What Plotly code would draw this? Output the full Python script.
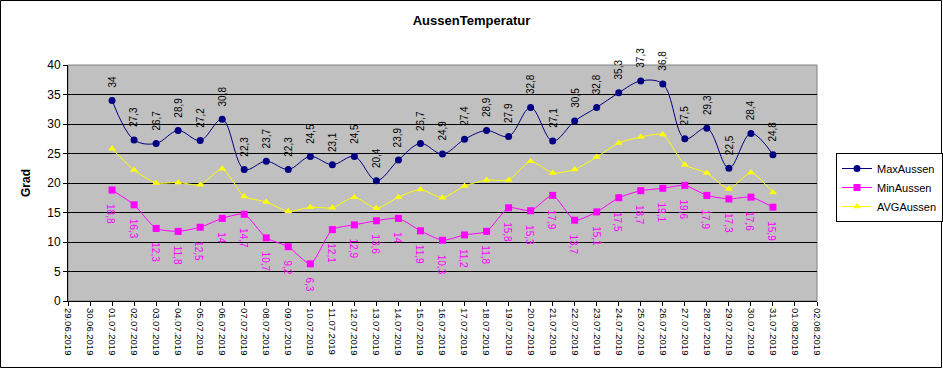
import plotly.graph_objects as go
import pandas as pd

# ---- data ----
axis_dates = pd.date_range("2019-06-29", "2019-08-02", freq="D")
dates = pd.date_range("2019-07-01", "2019-07-31", freq="D")
max_aussen = [34, 27.3, 26.7, 28.9, 27.2, 30.8, 22.3, 23.7, 22.3, 24.5, 23.1, 24.5, 20.4, 23.9, 26.7,
              24.9, 27.4, 28.9, 27.9, 32.8, 27.1, 30.5, 32.8, 35.3, 37.3, 36.8, 27.5, 29.3, 22.5, 28.4, 24.8]
min_aussen = [18.8, 16.3, 12.3, 11.8, 12.5, 14, 14.7, 10.7, 9.2, 6.3, 12.1, 12.9, 13.6, 14, 11.9,
              10.3, 11.2, 11.8, 15.8, 15.3, 17.9, 13.7, 15.1, 17.5, 18.7, 19.1, 19.6, 17.9, 17.3, 17.6, 15.9]
avg_aussen = [25.8, 22.2, 20.0, 20.1, 19.7, 22.4, 17.7, 16.8, 15.2, 15.9, 15.8, 17.6, 15.7, 17.6, 18.9,
              17.5, 19.5, 20.5, 20.5, 23.7, 21.7, 22.3, 24.4, 26.8, 27.8, 28.2, 23.1, 21.7, 19.0, 21.8, 18.4]
y_ticks = [0, 5, 10, 15, 20, 25, 30, 35, 40]

W, H = 943, 368
ML, MR, MT, MB = 68, 126, 65, 67
PW, PH = W - ML - MR, H - MT - MB

FONT = "Liberation Sans, Arial, sans-serif"

fig = go.Figure()
fig.add_trace(go.Scatter(
    x=dates, y=max_aussen, name="MaxAussen", mode="lines+markers",
    line=dict(color="#000080", width=1, shape="spline", smoothing=1),
    marker=dict(symbol="circle", size=7, color="#000080")))
fig.add_trace(go.Scatter(
    x=dates, y=min_aussen, name="MinAussen", mode="lines+markers",
    line=dict(color="#FF00FF", width=1, shape="spline", smoothing=0.6),
    marker=dict(symbol="square", size=7, color="#FF00FF")))
fig.add_trace(go.Scatter(
    x=dates, y=avg_aussen, name="AVGAussen", mode="lines+markers",
    line=dict(color="#FFFF00", width=1, shape="spline", smoothing=0.6),
    marker=dict(symbol="triangle-up", size=7, color="#FFFF00")))

def fmt(v):
    return ("%g" % v).replace(".", ",")

annotations = []
for d, v in zip(dates, max_aussen):
    annotations.append(dict(x=d, y=v, xref="x", yref="y", text=fmt(v), showarrow=False,
                            textangle=-90, yanchor="bottom", yshift=11,
                            font=dict(family=FONT, size=10, color="black")))
for d, v in zip(dates, min_aussen):
    annotations.append(dict(x=d, y=v, xref="x", yref="y", text=fmt(v), showarrow=False,
                            textangle=90, yanchor="top", yshift=-12, xshift=-1,
                            font=dict(family=FONT, size=10, color="#FF00FF")))

shapes = [
    # outer chart frame
    dict(type="rect", xref="paper", yref="paper",
         x0=-(ML - 0.5) / PW, x1=1 + (MR - 1.5) / PW,
         y0=-(MB - 0.5) / PH, y1=1 + (MT - 0.5) / PH,
         line=dict(color="black", width=1), fillcolor="rgba(0,0,0,0)", layer="above"),
    # plot area border (grey)
    dict(type="rect", xref="paper", yref="paper", x0=0, x1=1, y0=0, y1=1,
         line=dict(color="#808080", width=1), fillcolor="rgba(0,0,0,0)", layer="below"),
]

fig.update_layout(
    width=W, height=H,
    margin=dict(l=ML, r=MR, t=MT, b=MB, pad=0, autoexpand=False),
    paper_bgcolor="white", plot_bgcolor="#C0C0C0",
    font=dict(family=FONT, size=11, color="black"),
    title=dict(text="<b>AussenTemperatur</b>", x=0.5, xref="container", xanchor="center",
               y=1 - 20 / H, yanchor="middle", font=dict(family=FONT, size=13, color="black")),
    showlegend=True,
    legend=dict(x=1 + (836 - 817) / PW, xanchor="left", y=1 - (153 - MT) / PH, yanchor="top",
                bgcolor="white", bordercolor="black", borderwidth=1,
                font=dict(family=FONT, size=11, color="black"),
                itemwidth=30, tracegroupgap=2),
    annotations=annotations,
    shapes=shapes,
)
fig.update_xaxes(
    type="date", range=[axis_dates[0], axis_dates[-1]], automargin=False,
    tickvals=list(axis_dates), ticktext=[d.strftime("%d.%m.%Y") for d in axis_dates],
    tickangle=90, ticks="outside", ticklen=4, tickcolor="black",
    showgrid=False, zeroline=False, showline=True, linecolor="black", linewidth=1,
    tickfont=dict(family=FONT, size=9.5, color="black"))
fig.update_yaxes(
    range=[0, 40], tickvals=y_ticks, ticks="outside", ticklen=4, tickcolor="black",
    automargin=False,
    showgrid=True, gridcolor="black", gridwidth=1, zeroline=False,
    showline=True, linecolor="black", linewidth=1,
    tickfont=dict(family=FONT, size=12, color="black"),
    title=dict(text="<b>Grad</b>", font=dict(family=FONT, size=12, color="black"), standoff=14))

fig.write_html("out.html", config={"displayModeBar": False},
               post_script="document.body.style.margin='0';document.body.style.overflow='hidden';")
